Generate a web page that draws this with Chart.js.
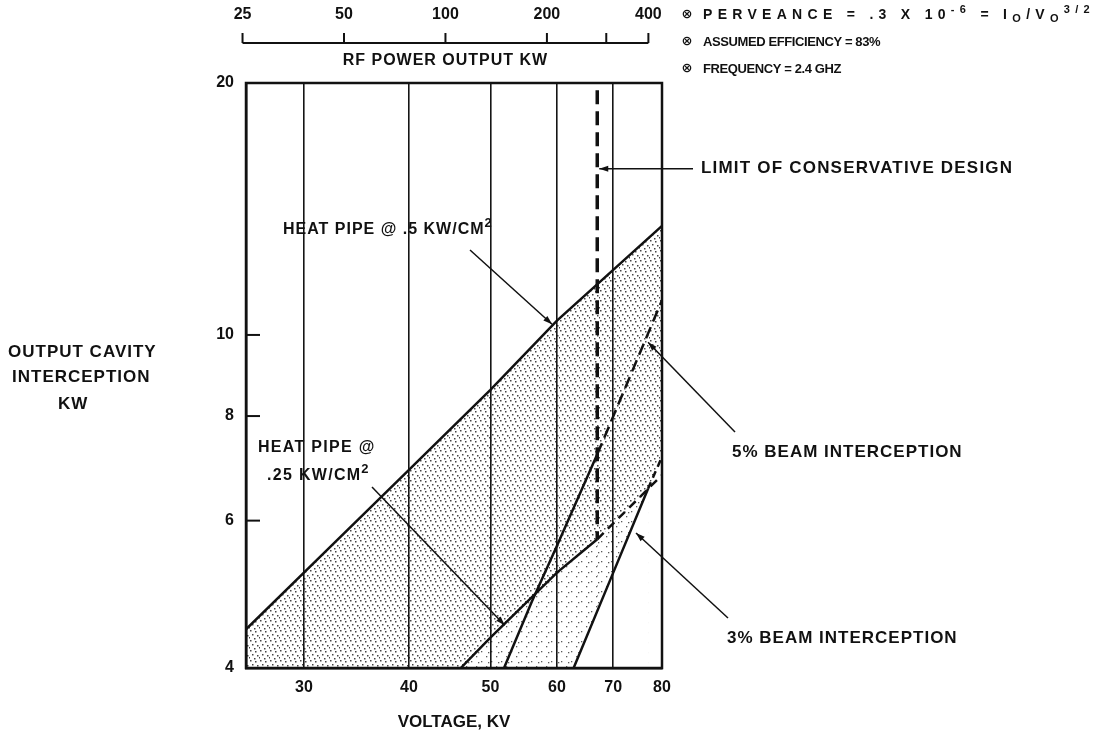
<!DOCTYPE html>
<html>
<head>
<meta charset="utf-8">
<script src="https://cdn.jsdelivr.net/npm/chart.js@4.4.1/dist/chart.umd.min.js"></script>
<style>
html,body{margin:0;padding:0;background:#fff;}
#c{display:block;}
</style>
</head>
<body>
<canvas id="c" width="1103" height="737"></canvas>
<script>
// ---------- data ----------
const voltageTicks = [30, 40, 50, 60, 70, 80];          // KV
const interceptionTicks = [4, 6, 8, 10, 20];            // KW
const powerTicks = [25, 50, 100, 200, 300, 400];        // RF power output KW
const powerTickLabels = ['25', '50', '100', '200', '', '400'];

const heatPipe05V  = [25.6, 30, 40, 50, 60, 80];
const heatPipe05KW = [4.45, 5.2, 6.9, 8.6, 10.4, 13.5];

const heatPipe025V  = [46.1, 50, 60, 67, 80];
const heatPipe025KW = [4.0, 4.35, 5.2, 5.7, 6.8];

const beam5V  = [51.9, 56, 60, 67, 80];
const beam5KW = [4.0, 4.8, 5.6, 7.2, 11.0];

const beam3V  = [62.8, 70, 77, 80];
const beam3KW = [4.0, 5.2, 6.55, 7.15];

const limitV  = [67, 67];
const limitKW = [19.6, 5.7];

const conservativeLimitV = 67;     // lines are dashed beyond this voltage
const beam3DashFromV = 77;         // 3% line dashed above the .25 heat-pipe line

const notes = [
  [{t:'PERVEANCE = .3 X 10'},{t:'-6',sup:1},{t:' = I'},{t:'O',sub:1},{t:'/V'},{t:'O',sub:1},{t:'3/2',sup:1}],
  [{t:'ASSUMED EFFICIENCY = 83%'}],
  [{t:'FREQUENCY = 2.4 GHZ'}]
];

// ---------- helpers ----------
const pts = (xs, ys) => xs.map((x, i) => ({x, y: ys[i]}));
const FONT = '"Liberation Sans", Arial, sans-serif';
const canvas = document.getElementById('c');
const mainCtx = canvas.getContext('2d');

function makePattern(size, color, dots, r, bg) {
  const c = document.createElement('canvas');
  c.width = c.height = size;
  const g = c.getContext('2d');
  if (bg) { g.fillStyle = bg; g.fillRect(0, 0, size, size); }
  g.fillStyle = color;
  dots.forEach(([x, y]) => g.fillRect(x, y, r, r));
  return mainCtx.createPattern(c, 'repeat');
}
const densePattern = makePattern(10, '#444444', [[0,0],[5,1],[2,4],[7,5],[4,8],[9,7]], 1.5, null);
const lightPattern = makePattern(10, '#5a5a5a', [[1,1],[6,6],[8,2]], 1.3, '#ffffff');

function dashAfter(v, dash) {
  return ctx => (ctx.p0.parsed.x >= v - 1e-6 ? dash : undefined);
}

function setSpacing(ctx, s) { try { ctx.letterSpacing = s + 'px'; } catch (e) {} }

function runsWidth(ctx, runs, size, spacing) {
  setSpacing(ctx, spacing);
  let w = 0;
  for (const r of runs) {
    const s = (r.sup || r.sub) ? Math.round(size * 0.8) : size;
    ctx.font = `bold ${s}px ${FONT}`;
    w += ctx.measureText(r.t).width;
  }
  return w;
}

function drawRuns(ctx, x, y, runs, size, spacing) {
  setSpacing(ctx, spacing || 0);
  ctx.textBaseline = 'middle';
  ctx.textAlign = 'left';
  for (const r of runs) {
    const s = (r.sup || r.sub) ? Math.round(size * 0.8) : size;
    ctx.font = `bold ${s}px ${FONT}`;
    const dy = r.sup ? -size * 0.38 : (r.sub ? size * 0.28 : 0);
    ctx.fillText(r.t, x, y + dy);
    x += ctx.measureText(r.t).width;
  }
  return x;
}

function arrowLine(ctx, x1, y1, x2, y2) {
  ctx.beginPath();
  ctx.moveTo(x1, y1);
  ctx.lineTo(x2, y2);
  ctx.stroke();
  const ang = Math.atan2(y2 - y1, x2 - x1);
  const L = 9, W = 3;
  ctx.beginPath();
  ctx.moveTo(x2, y2);
  ctx.lineTo(x2 - L * Math.cos(ang) + W * Math.sin(ang), y2 - L * Math.sin(ang) - W * Math.cos(ang));
  ctx.lineTo(x2 - L * Math.cos(ang) - W * Math.sin(ang), y2 - L * Math.sin(ang) + W * Math.cos(ang));
  ctx.closePath();
  ctx.fill();
}

// ---------- decorations plugin ----------
const decorations = {
  id: 'decorations',
  afterDraw(chart) {
    const {ctx, chartArea: a, scales} = chart;
    const X = v => scales.x.getPixelForValue(v);
    const Y = v => scales.y.getPixelForValue(v);
    const P = v => scales.x2.getPixelForValue(v);
    ctx.save();
    ctx.strokeStyle = '#111';
    ctx.fillStyle = '#111';

    // frame
    ctx.lineWidth = 2.5;
    ctx.strokeRect(a.left, a.top, a.right - a.left, a.bottom - a.top);

    // inward y tick marks
    ctx.lineWidth = 2;
    interceptionTicks.forEach(v => {
      const y = Y(v);
      if (y > a.top + 3 && y < a.bottom - 3) {
        ctx.beginPath(); ctx.moveTo(a.left, y); ctx.lineTo(a.left + 14, y); ctx.stroke();
      }
    });

    // top RF power axis
    const yLine = 43;
    ctx.lineWidth = 2;
    ctx.beginPath();
    ctx.moveTo(P(powerTicks[0]), yLine);
    ctx.lineTo(P(powerTicks[powerTicks.length - 1]), yLine);
    ctx.stroke();
    setSpacing(ctx, 0);
    ctx.font = `bold 16px ${FONT}`;
    ctx.textAlign = 'center';
    ctx.textBaseline = 'middle';
    powerTicks.forEach((p, i) => {
      const x = P(p);
      ctx.beginPath(); ctx.moveTo(x, yLine); ctx.lineTo(x, yLine - 10); ctx.stroke();
      if (powerTickLabels[i]) ctx.fillText(powerTickLabels[i], x, 15);
    });
    setSpacing(ctx, 1);
    ctx.font = `bold 16px ${FONT}`;
    ctx.fillText('RF POWER OUTPUT KW', (P(powerTicks[0]) + P(powerTicks[powerTicks.length - 1])) / 2, 61);

    // y title
    ctx.textAlign = 'left';
    ctx.font = `bold 17px ${FONT}`;
    ctx.fillText('OUTPUT CAVITY', 8, 352);
    ctx.fillText('INTERCEPTION', 12, 377);
    ctx.fillText('KW', 58, 404);

    // notes
    notes.forEach((runs, i) => {
      const y = 15 + i * 27;
      setSpacing(ctx, 0);
      ctx.font = `bold 13px "DejaVu Sans"`;
      ctx.textAlign = 'center';
      ctx.fillText('\u2297', 687, y);
      if (i === 0) {
        const nat = runsWidth(ctx, runs, 14, 0);
        const chars = runs.reduce((n, r) => n + r.t.length, 0);
        const sp = Math.max(0, (392 - nat) / chars);
        drawRuns(ctx, 703, y, runs, 14, sp);
      } else {
        drawRuns(ctx, 703, y, runs, 13, -0.4);
      }
    });

    // annotations
    ctx.lineWidth = 1.5;
    // heat pipe .5
    drawRuns(ctx, 283, 230, [{t:'HEAT PIPE @ .5 KW/CM'},{t:'2',sup:1}], 16, 1);
    arrowLine(ctx, 470, 250, X(59.2), Y(10.3));
    // heat pipe .25
    drawRuns(ctx, 258, 448, [{t:'HEAT PIPE @'}], 16, 1.3);
    drawRuns(ctx, 267, 476, [{t:'.25 KW/CM'},{t:'2',sup:1}], 16, 1.3);
    arrowLine(ctx, 372, 487, X(52), Y(4.5));
    // limit
    const ly = Y(15.8);
    arrowLine(ctx, 693, ly, X(conservativeLimitV) + 2, ly);
    drawRuns(ctx, 701, ly, [{t:'LIMIT OF CONSERVATIVE DESIGN'}], 17, 1.2);
    // 5%
    arrowLine(ctx, 735, 432, X(77), Y(9.8));
    drawRuns(ctx, 732, 452, [{t:'5% BEAM INTERCEPTION'}], 17, 1);
    // 3%
    arrowLine(ctx, 728, 618, X(74.5), Y(5.8));
    drawRuns(ctx, 727, 638, [{t:'3% BEAM INTERCEPTION'}], 17, 1);

    ctx.restore();
  }
};

// ---------- chart ----------
const lineBase = {borderColor: '#111', borderWidth: 2.5, pointRadius: 0, tension: 0, fill: false};

new Chart(mainCtx, {
  type: 'line',
  data: {
    datasets: [
      Object.assign({}, lineBase, {
        label: 'HEAT PIPE @ .5 KW/CM2', data: pts(heatPipe05V, heatPipe05KW),
        fill: 'start', backgroundColor: densePattern, order: 3
      }),
      Object.assign({}, lineBase, {
        label: 'HEAT PIPE @ .25 KW/CM2', data: pts(heatPipe025V, heatPipe025KW),
        fill: 'start', backgroundColor: lightPattern, order: 2,
        segment: {borderDash: dashAfter(conservativeLimitV, [9, 6])}
      }),
      Object.assign({}, lineBase, {
        label: '3% BEAM INTERCEPTION', data: pts(beam3V, beam3KW),
        fill: 'start', backgroundColor: '#ffffff', order: 1,
        segment: {borderDash: dashAfter(beam3DashFromV, [7, 5])}
      }),
      Object.assign({}, lineBase, {
        label: '5% BEAM INTERCEPTION', data: pts(beam5V, beam5KW), order: 0,
        segment: {borderDash: dashAfter(conservativeLimitV, [12, 6])}
      }),
      Object.assign({}, lineBase, {
        label: 'LIMIT OF CONSERVATIVE DESIGN', data: pts(limitV, limitKW), order: 0,
        borderWidth: 3.5, borderDash: [14, 7]
      })
    ]
  },
  options: {
    responsive: false,
    animation: false,
    devicePixelRatio: 1,
    layout: {padding: {left: 200, right: 441, top: 83, bottom: 0}},
    plugins: {
      legend: {display: false},
      tooltip: {enabled: false},
      filler: {drawTime: 'beforeDraw', propagate: false}
    },
    scales: {
      x: {
        type: 'logarithmic', position: 'bottom', min: 25.6, max: 80,
        afterBuildTicks: s => { s.ticks = voltageTicks.map(v => ({value: v})); },
        afterFit: s => { s.height = 69; },
        grid: {color: '#151515', lineWidth: 1.6, drawTicks: false},
        border: {display: true, color: '#111', width: 2.5},
        ticks: {
          autoSkip: false, maxRotation: 0, padding: 10, color: '#111',
          font: {family: FONT, size: 16, weight: 'bold'},
          callback: v => String(v)
        },
        title: {
          display: true, text: 'VOLTAGE, KV', color: '#111',
          font: {family: FONT, size: 17, weight: 'bold'},
          padding: {top: 0, bottom: 4}
        }
      },
      y: {
        type: 'logarithmic', position: 'left', min: 4, max: 20,
        afterBuildTicks: s => { s.ticks = interceptionTicks.map(v => ({value: v})); },
        afterFit: s => { s.width = 46; },
        grid: {drawOnChartArea: false, drawTicks: false},
        border: {display: true, color: '#111', width: 2.5},
        ticks: {
          autoSkip: false, padding: 12, color: '#111',
          font: {family: FONT, size: 16, weight: 'bold'},
          callback: v => String(v)
        }
      },
      x2: {
        type: 'logarithmic', position: 'top', min: 25.6, max: 439, display: false
      }
    }
  },
  plugins: [decorations]
});
</script>
</body>
</html>
